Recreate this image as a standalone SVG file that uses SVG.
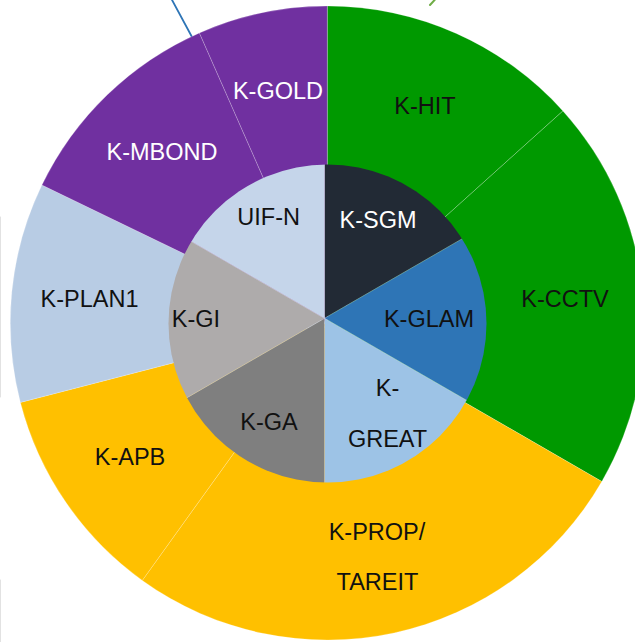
<svg xmlns="http://www.w3.org/2000/svg" width="635" height="642" viewBox="0 0 635 642">
<style>
text{font-family:"Liberation Sans",Arial,sans-serif;font-size:23.5px;text-anchor:middle;fill:#111}
text.w{fill:#fff}
.seg{stroke:#fff;stroke-width:0.6;stroke-opacity:0.35}
</style>
<defs>
<clipPath id="innerClip"><circle cx="327.5" cy="323.5" r="159"/></clipPath>
</defs>
<rect width="635" height="642" fill="#fff"/>
<g id="connectors" fill="none" stroke-linecap="round">
<line x1="171.5" y1="-1" x2="192" y2="37" stroke="#2E75B6" stroke-width="1.8"/>
<line x1="430" y1="5" x2="435.5" y2="-1" stroke="#70AD47" stroke-width="2"/>
<line x1="0.5" y1="217" x2="0.5" y2="397" stroke="#e2e2e2" stroke-width="1"/>
<line x1="0.5" y1="580" x2="0.5" y2="642" stroke="#e2e2e2" stroke-width="1"/>
</g>
<g id="outer">
<g id="k-hit"><path class="seg" fill="#009900" d="M327.3 323 L327.3 6 A317 317 0 0 1 562.9 110.9 Z"/><text x="425" y="114">K-HIT</text></g>
<g id="k-cctv"><path class="seg" fill="#009900" d="M327.3 323 L562.9 110.9 A317 317 0 0 1 601.8 481.5 Z"/><text x="565" y="306.7">K-CCTV</text></g>
<g id="k-prop"><path class="seg" fill="#FFC000" d="M327.3 323 L601.8 481.5 A317 317 0 0 1 142.3 580.4 Z"/><text x="377" y="540">K-PROP/</text><text x="377.5" y="590">TAREIT</text></g>
<g id="k-apb"><path class="seg" fill="#FFC000" d="M327.3 323 L142.3 580.4 A317 317 0 0 1 20.4 402.4 Z"/><text x="130" y="465">K-APB</text></g>
<g id="k-plan1"><path class="seg" fill="#B8CCE4" d="M327.3 323 L20.4 402.4 A317 317 0 0 1 41.9 185 Z"/><text x="89.5" y="306.7">K-PLAN1</text></g>
<g id="k-mbond"><path class="seg" fill="#7030A0" d="M327.3 323 L41.9 185 A317 317 0 0 1 199.4 32.9 Z"/><text class="w" x="162" y="160">K-MBOND</text></g>
<g id="k-gold"><path class="seg" fill="#7030A0" d="M327.3 323 L199.4 32.9 A317 317 0 0 1 327.3 6 Z"/><text class="w" x="278" y="99">K-GOLD</text></g>
</g>
<g id="inner">
<g clip-path="url(#innerClip)">
<g id="k-sgm-shape"><path class="seg" fill="#222A35" d="M324.5 318.3 L324.5 68.3 L541 193.3 Z"/></g>
<g id="k-glam-shape"><path class="seg" fill="#2E75B6" d="M324.5 318.3 L541 193.3 L541 443.3 Z"/></g>
<g id="k-great-shape"><path class="seg" fill="#9DC3E6" d="M324.5 318.3 L541 443.3 L324.5 568.3 Z"/></g>
<g id="k-ga-shape"><path class="seg" fill="#7F7F7F" d="M324.5 318.3 L324.5 568.3 L108 443.3 Z"/></g>
<g id="k-gi-shape"><path class="seg" fill="#AEABAB" d="M324.5 318.3 L108 443.3 L108 193.3 Z"/></g>
<g id="uif-n-shape"><path class="seg" fill="#C5D5EA" d="M324.5 318.3 L108 193.3 L324.5 68.3 Z"/></g>
</g>
<g id="k-sgm"><text class="w" x="378" y="228.3">K-SGM</text></g>
<g id="k-glam"><text x="429" y="326.7">K-GLAM</text></g>
<g id="k-great"><text x="387.5" y="395.7">K-</text><text x="387.5" y="447.3">GREAT</text></g>
<g id="k-ga"><text x="269" y="430">K-GA</text></g>
<g id="k-gi"><text x="196" y="326.7">K-GI</text></g>
<g id="uif-n"><text x="268.7" y="225">UIF-N</text></g>
</g>
</svg>
